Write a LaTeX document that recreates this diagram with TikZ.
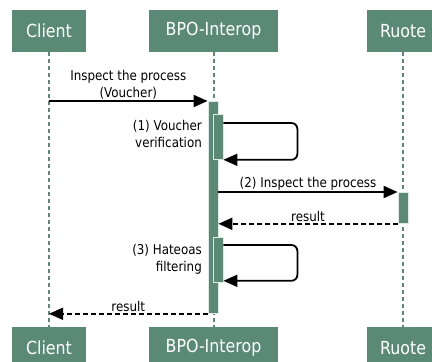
\documentclass[tikz,border=0pt]{standalone}
\usepackage{fontspec}
\setmainfont[FakeStretch=0.88]{DejaVu Sans}
\usetikzlibrary{arrows.meta}
\definecolor{seqgreen}{RGB}{90,138,118}

\begin{document}
\begin{tikzpicture}[x=1pt,y=-1pt,
  actor/.style={fill=seqgreen,text=white,minimum width=#1,minimum height=42pt,
    inner sep=0pt,font=\fontsize{18}{20}\selectfont},
  lifeline/.style={seqgreen,line width=2pt,dash pattern=on 4pt off 3pt},
  bar/.style={fill=seqgreen,draw=white!80!seqgreen,line width=0.8pt,
    minimum width=10pt,inner sep=0pt,anchor=north},
  call/.style={line width=1.8pt,-{Triangle[length=14pt,width=12pt]}},
  reply/.style={call,dash pattern=on 5pt off 3pt},
  lbl/.style={font=\fontsize{13.5}{17}\selectfont,inner sep=1pt}]
  \useasboundingbox (0,0) rectangle (432,362);
  \clip (0,0) rectangle (432,362);

  % participants
  \node[actor=74pt] (client) at (49,31) {Client};
  \node[actor=129pt] (bpo) at (213.5,31) {BPO-Interop};
  \node[actor=72pt] (ruote) at (403,31) {Ruote};
  \node[actor=74pt] (clientB) at (49,348) {Client};
  \node[actor=129pt] (bpoB) at (213.5,348) {BPO-Interop};
  \node[actor=72pt] (ruoteB) at (403,348) {Ruote};

  \draw[lifeline] (client) -- (clientB);
  \draw[lifeline] (bpo) -- (bpoB);
  \draw[lifeline] (ruote) -- (ruoteB);

  % activations
  \node[bar,minimum height=212pt] (act) at (213,101) {};
  \node[bar,minimum height=45pt] (self1) at (218,114) {};
  \node[bar,minimum height=31pt] (rbar) at (403,192) {};
  \node[bar,minimum height=45pt] (self2) at (218,237) {};

  % messages
  \draw[call] (act.north west -| client) -- (act.north west)
    node[lbl,midway,above,align=center] {Inspect the process\\(Voucher)};

  \draw[call,rounded corners=6pt] ([yshift=-9pt]self1.north east) -- ++(74,0)
    |- (self1.south east);
  \node[lbl,anchor=north east,align=right] (note1) at (203,119)
    {(1) Voucher\\verification};

  \draw[call] (rbar.north west -| act.east) -- (rbar.north west)
    node[lbl,midway,above] {(2) Inspect the process};
  \draw[reply] (rbar.south west) -- (rbar.south west -| act.east)
    node[lbl,midway,above] {result};

  \draw[call,rounded corners=6pt] ([yshift=-8pt]self2.north east) -- ++(74,0)
    |- ([yshift=2pt]self2.south east);
  \node[lbl,anchor=north east,align=right] (note3) at (203,243)
    {(3) Hateoas\\filtering};

  \draw[reply] (act.south west) -- (act.south west -| client)
    node[lbl,midway,above] {result};
\end{tikzpicture}
\end{document}
